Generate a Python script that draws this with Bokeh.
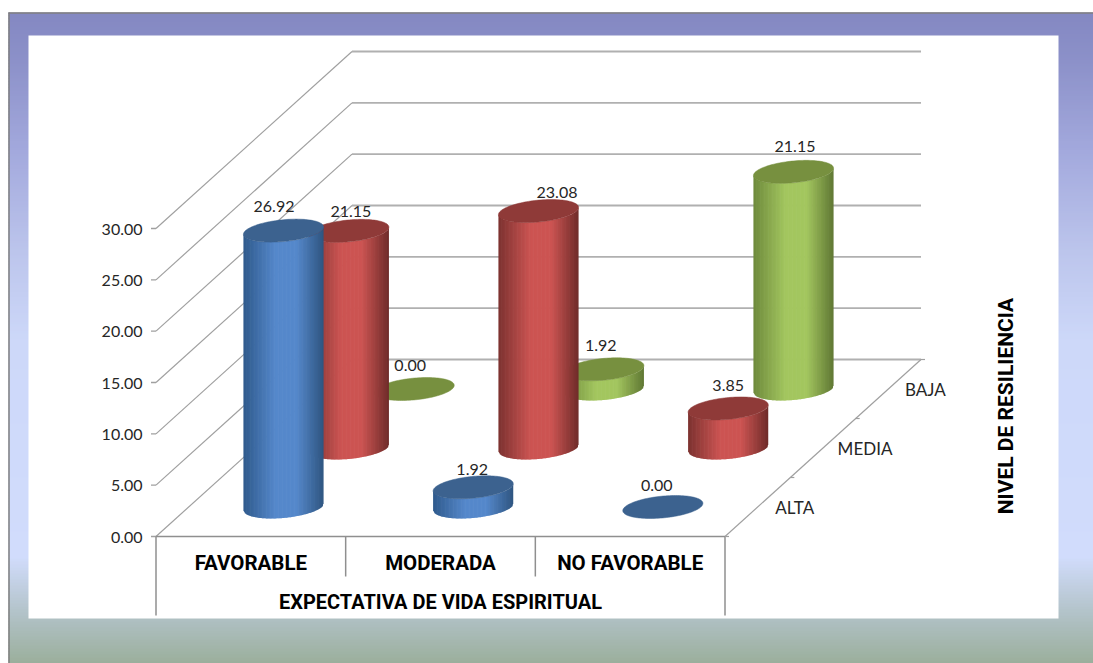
import numpy as np
from bokeh.plotting import figure
from bokeh.models import Range1d
from bokeh.core.properties import value
from bokeh.embed import file_html
from bokeh.resources import INLINE

# ---- data ----
categories = ["FAVORABLE", "MODERADA", "NO FAVORABLE"]
depth_labels = ["ALTA", "MEDIA", "BAJA"]
alta = [26.92, 1.92, 0.00]
media = [21.15, 23.08, 3.85]
baja = [0.00, 1.92, 21.15]
y_ticks = [0, 5, 10, 15, 20, 25, 30]
x_title = "EXPECTATIVA DE VIDA ESPIRITUAL"
z_title = "NIVEL DE RESILIENCIA"

# label nudges (pixels) relative to the top of each cylinder
nudge_alta = [(-9.5, -24), (-1, -18), (-6, -21.5)]
nudge_media = [(2, -19), (18.5, -18.5), (0, -23)]
nudge_baja = [(-4, -23.5), (-3, -24), (1.5, -25)]
nudge_depth = [37, 42, 37]

# ---- oblique 3-D projection onto the screen ----
X0, Y0 = 155.5, 536.0          # front-left floor corner
CAT_W = (725.0 - 156.0) / 3    # width of one category
DX, DY = 196.0, -177.0         # depth vector
PER_UNIT = 308.0 / 30.0        # pixels per value unit


def project(cat, depth, val):
    """cat in 0..3, depth in 0..1, val in chart units."""
    return (X0 + cat * CAT_W + depth * DX, Y0 + depth * DY - val * PER_UNIT)


LABEL = value("Lato")
BOLD = value("Roboto")
BG_STOPS = [(12, "#8488c2"), (60, "#8c91c9"), (150, "#a3a9dd"), (250, "#bcc5ec"),
            (340, "#cdd8f9"), (555, "#d1dcfc"), (617, "#afc0c3"), (663, "#9aae9a")]


def hex2rgb(h):
    return np.array([int(h[i:i + 2], 16) for i in (1, 3, 5)], float)


def rgb2hex(c):
    return "#%02x%02x%02x" % tuple(int(round(v)) for v in c)


def ramp(t, stops):
    ts = [s[0] for s in stops]
    cols = np.array([hex2rgb(s[1]) for s in stops])
    return rgb2hex([np.interp(t, ts, cols[:, k]) for k in range(3)])


p = figure(width=1093, height=663, x_range=Range1d(0, 1093), y_range=Range1d(663, 0),
           output_backend="svg", toolbar_location=None, min_border=0,
           outline_line_color=None, background_fill_color="white", border_fill_color="white")
p.axis.visible = False
p.grid.visible = False

# ---- slide background ----
edges = np.arange(12, 664, 3.0)
p.quad(left=8, right=1093, top=edges[:-1], bottom=edges[1:] + 0.5,
       fill_color=[ramp(e, BG_STOPS) for e in edges[:-1]], line_color=None)
p.segment(x0=[8, 8.5], y0=[12.5, 12], x1=[1093, 8.5], y1=[12.5, 663], line_color="#7f7f7f", line_width=1.5)
p.quad(left=28, right=1058, top=35, bottom=618, fill_color="white", line_color=None)

# ---- walls ----
GRID = "#b0b0b0"
DIAG = "#a0a0a0"
for v in y_ticks:
    fx, fy = project(0, 0, v)
    bx, by = project(0, 1, v)
    ex, ey = project(3, 1, v)
    p.line([fx, bx], [fy, by], line_color=DIAG, line_width=1.2)
    p.line([bx, ex], [by, ey], line_color=GRID, line_width=1.8)
    p.line([fx - 5, fx], [fy, fy], line_color=DIAG, line_width=1.3)

tx = [project(0, 0, 0)[0] - 13.5] * len(y_ticks)
ty = [project(0, 0, v)[1] + 0.5 for v in y_ticks]
p.text(tx, ty, text=[f"{v:.2f}" for v in y_ticks], text_font=LABEL, text_font_size="16px",
       text_color="#262626", text_align="right", text_baseline="middle")

# ---- floor front, category box ----
AX = "#8f8f8f"
fl, fr = project(0, 0, 0), project(3, 0, 0)
p.line([fl[0], fr[0]], [fl[1], fr[1]], line_color=AX, line_width=1.5)
for c in [0, 3]:
    x = project(c, 0, 0)[0]
    p.line([x, x], [Y0, Y0 + 79], line_color=AX, line_width=1.5)
for c in [1, 2]:
    x = project(c, 0, 0)[0]
    p.line([x, x], [Y0, Y0 + 40], line_color=AX, line_width=1.5)
bk = project(3, 1, 0)
p.line([fr[0], bk[0]], [fr[1], bk[1]], line_color=DIAG, line_width=1.2)
for d in [0, 1 / 3, 2 / 3, 1]:
    x, y = project(3, d, 0)
    p.line([x, x + 4], [y, y], line_color=DIAG, line_width=1.2)

p.text([project(c + .5, 0, 0)[0] for c in range(3)], [Y0 + 26] * 3, text=categories,
       text_font=BOLD, text_font_style="bold", text_font_size="20.5px", text_color="#000000",
       text_align="center", text_baseline="middle")
p.text([project(1.5, 0, 0)[0]], [Y0 + 65], text=[x_title],
       text_font=BOLD, text_font_style="bold", text_font_size="20px", text_color="#000000",
       text_align="center", text_baseline="middle")
dlx = [project(3, (i + .5) / 3, 0)[0] + nudge_depth[i] for i in range(3)]
dly = [project(3, (i + .5) / 3, 0)[1] for i in range(3)]
p.text(dlx, dly, text=depth_labels, text_font=LABEL, text_font_size="17px", text_color="#262626",
       text_align="center", text_baseline="middle")
p.text([1005], [405.5], text=[z_title], angle=np.pi / 2, text_font=BOLD,
       text_font_style="bold", text_font_size="21px", text_color="#000000",
       text_align="center", text_baseline="middle")

# ---- cylinders ----
RX, RZ = 38.0, 0.065           # disc radius along x, and along depth (fraction)
T = np.linspace(0, 2 * np.pi, 121)
TILT = np.arctan2(RZ * DX, RX)


def disc(cx, cy, t=T):
    return cx + RX * np.cos(t) + RZ * DX * np.sin(t), cy + RZ * DY * np.sin(t)


def lower_arc(cx, cy):
    t = np.linspace(np.pi + TILT, 2 * np.pi + TILT, 121)
    return disc(cx, cy, t)


def shade(u, dark_l, mid, dark_r):
    stops = [(0, dark_l), (0.4, mid), (0.66, mid), (1, dark_r)]
    return ramp(u, stops)


SERIES = [  # back to front
    (5 / 6, baja, nudge_baja, "#6e8a3c", "#a3c65f", "#5f7733", "#77903f"),
    (3 / 6, media, nudge_media, "#7c3230", "#cc5452", "#6e2b29", "#8f3a38"),
    (1 / 6, alta, nudge_alta, "#2f5a8c", "#5588cb", "#2e5580", "#3c628f"),
]
lab_x, lab_y, lab_t = [], [], []
for depth, vals, nudges, dl, mid, dr, top in SERIES:
    for c, v in enumerate(vals):
        cx, cy0 = project(c + .5, depth, 0)
        _, cy1 = project(c + .5, depth, v)
        if v > 0:
            ax, ay = lower_arc(cx, cy0)
            bx, by = lower_arc(cx, cy1)
            xs = np.linspace(ax.min(), ax.max(), 61)
            lo = np.interp(xs, ax, ay)
            hi = np.interp(xs, bx, by)
            px, py, col = [], [], []
            for i in range(60):
                xr = xs[i + 1] + (0.7 if i < 59 else 0)
                px.append([xs[i], xr, xr, xs[i]])
                py.append([hi[i], hi[i + 1], lo[i + 1], lo[i]])
                col.append(shade((i + .5) / 60, dl, mid, dr))
            p.patches(px, py, fill_color=col, line_color=None)
        ex, ey = disc(cx, cy1)
        p.patch(ex, ey, fill_color=top, line_color=top, line_width=0.5)
        lab_x.append(cx + nudges[c][0])
        lab_y.append(cy1 + nudges[c][1])
        lab_t.append(f"{v:.2f}")

p.text(lab_x, lab_y, text=lab_t, text_font=LABEL, text_font_size="16px", text_color="#262626",
       text_align="center", text_baseline="middle")

open("out.html", "w").write(file_html(p, INLINE))
